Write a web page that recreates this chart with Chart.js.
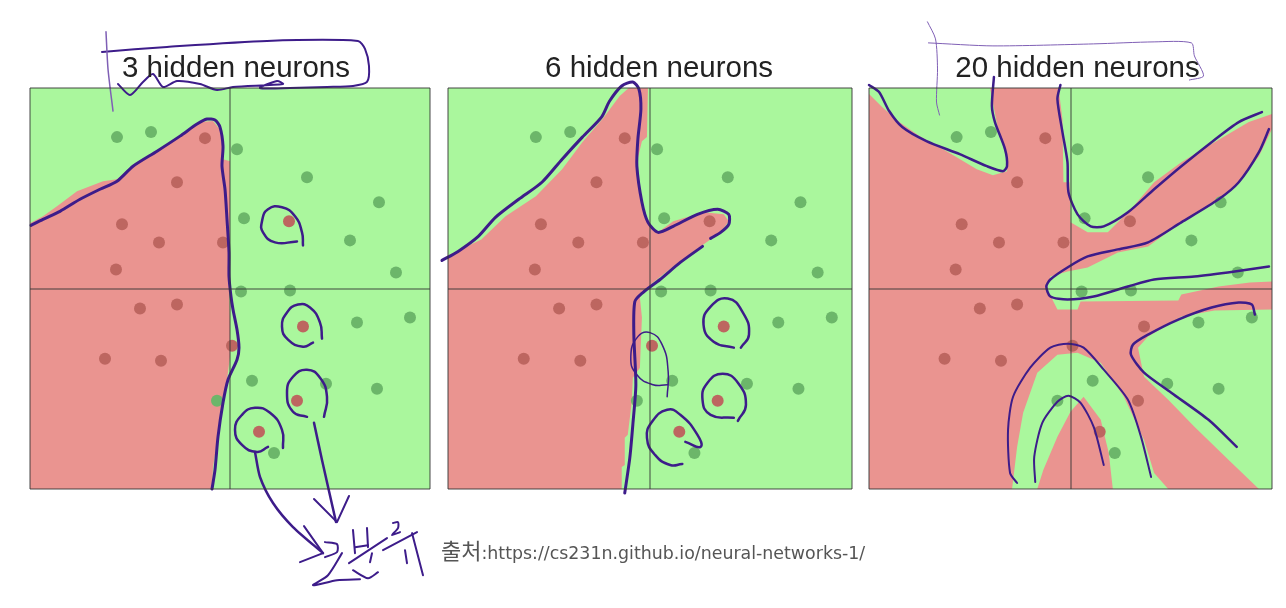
<!DOCTYPE html>
<html lang="ko">
<head>
<meta charset="utf-8">
<title>hidden neurons</title>
<script src="https://cdn.jsdelivr.net/npm/chart.js@4/dist/chart.umd.min.js"></script>
<style>
  html, body { margin: 0; padding: 0; background: #fff; }
  body { position: relative; width: 1286px; height: 608px; overflow: hidden; }
  canvas { position: absolute; top: 0; filter: blur(0.5px); }
  #source {
    position: absolute; left: 441px; top: 533px; white-space: nowrap;
    color: #555; font: 17.4px "DejaVu Sans", sans-serif; filter: blur(0.3px);
  }
  #source span { font: 22px "Noto Sans CJK KR", sans-serif; }
</style>
</head>
<body>
<canvas id="chart1" width="438" height="608" style="left:0"></canvas>
<canvas id="chart2" width="422" height="608" style="left:438px"></canvas>
<canvas id="chart3" width="426" height="608" style="left:860px"></canvas>
<div id="source"><span>출처</span>:https://cs231n.github.io/neural-networks-1/</div>

<script>
/* ---------------------------------- data ---------------------------------- */
const panelTitles = ["3 hidden neurons", "6 hidden neurons", "20 hidden neurons"];
const titleCenters = [6, 9, 7];

const redPoints = [[-25,150],[-53,106],[-108,64],[-71,46],[-7,46],[-114,19],[59,67],[-90,-20],[-53,-16],
  [-125,-70],[-69,-72],[2,-57],[73,-38],[67,-112],[29,-143]];
const greenPoints = [[-113,151],[-79,156],[7,139],[77,111],[149,86],[14,70],[120,48],[166,16],[11,-3],[60,-2],
  [127,-34],[180,-29],[22,-92],[96,-95],[147,-100],[-13,-112],[44,-164]];

// decision regions
const panel1Red = [[-200,65],[-187,72],[-173,82],[-153,97],[-127,107],[-113,109],[-97,122],[-73,137],[-50,152],
  [-30,166],[-17,167],[-8,156],[-7,129],[0,127],[0,69],[-1,0],[0,-34],[0,-68],[-3,-91],[-10,-134],[-17,-178],
  [-18,-200],[-200,-200]];
const panel2Red = [[-200,33],[-167,49],[-143,72],[-113,92],[-87,119],[-67,146],[-47,169],[-30,192],[-20,201],
  [-2,201],[-3,151],[-8,147],[-13,126],[-8,86],[0,62],[8,56],[23,67],[53,76],[73,74],[78,67],[70,56],[50,42],
  [23,22],[3,6],[-7,-3],[-10,-9],[-8,-29],[-10,-79],[-17,-89],[-18,-113],[-22,-146],[-25,-149],[-25,-176],
  [-28,-178],[-28,-200],[-200,-200]];
const panel3Green1 = [[-200,201],[-200,194],[-187,181],[-170,166],[-150,152],[-123,137],[-93,119],[-77,113],
  [-63,117],[-63,129],[-72,159],[-80,201]];
const panel3Green2 = [[-12,201],[-8,169],[-7,106],[-1,106],[0,66],[17,56],[37,56],[60,79],[83,106],[110,126],
  [143,146],[177,166],[200,174],[200,201]];
const panel3Green3 = [[200,159],[187,132],[167,106],[143,86],[110,66],[77,42],[47,36],[17,21],[-3,17],[-20,12],
  [-23,2],[-23,-1],[-13,-21],[7,-21],[10,-13],[107,-12],[110,-6],[147,2],[178,6],[200,7]];
const panel3Green4 = [[67,-59],[77,-48],[110,-28],[143,-22],[200,-21],[200,-200],[187,-200],[157,-171],[123,-138],
  [97,-111],[73,-88]];
const panel3Green5 = [[-58,-200],[-53,-158],[-47,-124],[-33,-84],[-13,-66],[7,-64],[30,-74],[53,-108],[73,-151],
  [83,-184],[97,-200],[42,-200],[38,-164],[30,-131],[13,-108],[0,-123],[-13,-148],[-27,-181],[-33,-200]];
const fullSquare = [[-200,-200],[200,-200],[200,200],[-200,200]];

// pen strokes, panel 1
const ink1Boundary = [[-199,63],[-187,69],[-170,77],[-150,89],[-130,99],[-113,107],[-97,122],[-73,137],[-50,152],
  [-33,164],[-23,169],[-15,168],[-10,161],[-7,142],[-8,122],[-5,99],[-3,69],[-1,36],[-1,12],[1,-8],[3,-21],[7,-41],
  [9,-59],[7,-71],[-2,-91],[-7,-114],[-12,-148],[-15,-181],[-18,-200]];
const ink1BoxSide = [[-124,256],[-122,219],[-117,177]];
const ink1Box = [[-128,236],[-63,241],[37,247],[128,247],[135,239],[139,222],[137,206],[123,202],[97,201],[60,200],
  [30,200],[47,207],[53,204],[3,201],[-13,198],[-30,204],[-53,207],[-67,201],[-77,214],[-87,206],[-100,193],[-112,204]];
const ink1Circles = [
  [[73,43],[72,56],[65,72],[52,81],[38,79],[32,67],[33,56],[45,46],[67,47]],
  [[92,-50],[90,-34],[80,-19],[68,-16],[57,-24],[52,-38],[58,-51],[73,-58],[83,-54]],
  [[94,-128],[97,-108],[90,-89],[77,-81],[63,-88],[57,-104],[63,-123],[77,-128]],
  [[53,-159],[52,-141],[40,-124],[25,-119],[12,-126],[5,-141],[12,-156],[27,-163],[38,-158]],
];
const ink1Arrows = [
  [[25,-163],[30,-188],[43,-214],[63,-238],[93,-264]],
  [[84,-134],[92,-171],[106,-233]],
];
const ink1Straight = [
  [[74,-237],[93,-264],[70,-273]],
  [[84,-210],[107,-233],[119,-207]],
  [[123,-241],[125,-264]],
  [[137,-239],[138,-258]],
  [[125,-258],[138,-256]],
  [[119,-274],[157,-249]],
  [[142,-264],[140,-273]],
  [[153,-261],[187,-243]],
  [[175,-261],[177,-274]],
  [[182,-244],[193,-286]],
];
const ink1Word = [
  [[95,-253],[107,-255],[107,-263],[95,-268]],
  [[112,-264],[98,-286],[83,-296],[107,-291],[130,-290]],
  [[123,-281],[138,-289],[148,-283]],
  [[163,-234],[168,-233],[168,-239],[162,-246],[170,-243]],
];

// pen strokes, panel 2
const ink2Upper = [[-206,28],[-190,37],[-170,52],[-153,71],[-130,89],[-107,106],[-87,129],[-67,151],[-48,171],
  [-40,187],[-28,202],[-17,206],[-11,199],[-9,179],[-12,149],[-13,122],[-8,86],[-2,66],[8,56],[23,62],[47,74],
  [67,79],[78,74],[78,64],[70,56],[60,50]];
const ink2Lower = [[52,42],[30,26],[10,9],[-7,-4],[-15,-13],[-16,-46],[-14,-96],[-17,-136],[-20,-169],[-25,-204]];
const ink2ThinCircle = [[17,-108],[18,-83],[12,-56],[0,-44],[-12,-48],[-19,-68],[-13,-86],[3,-96],[17,-96]];
const ink2Circles = [
  [[90,-59],[98,-46],[92,-24],[77,-10],[60,-18],[53,-36],[63,-53],[83,-59]],
  [[87,-132],[95,-116],[87,-94],[72,-85],[57,-94],[52,-111],[60,-126],[83,-129]],
  [[35,-153],[50,-158],[47,-146],[30,-126],[17,-121],[2,-133],[-3,-149],[5,-166],[20,-176],[32,-175]],
];

// pen strokes, panel 3
const ink3BoxSide = [[-142,266],[-134,249],[-132,219],[-133,186],[-130,173]];
const ink3Box = [[-141,245],[-77,242],[23,244],[83,246],[120,245],[123,232],[132,212],[118,208]];
const ink3Left = [[-200,203],[-190,196],[-180,177],[-167,161],[-143,147],[-110,134],[-83,122],[-67,117],[-63,122],
  [-65,139],[-75,166],[-78,182],[-76,211]];
const ink3Right = [[-10,203],[-13,189],[-8,156],[-3,126],[-2,96],[7,74],[20,62],[33,62],[57,76],[83,99],[110,122],
  [140,146],[167,166],[190,176]];
const ink3Band = [[197,159],[187,136],[167,106],[147,89],[110,66],[77,46],[47,39],[17,32],[-3,21],[-20,9],[-24,2],
  [-20,-8],[-3,-11],[23,-8],[57,2],[83,9],[123,12],[163,17],[197,22]];
const ink3Corner = [[183,-26],[180,-16],[167,-14],[140,-19],[107,-31],[77,-46],[62,-56],[60,-66],[73,-84],[100,-104],
  [137,-131],[165,-158]];
const ink3OuterArc = [[-53,-194],[-60,-184],[-62,-141],[-57,-108],[-40,-79],[-20,-59],[-3,-55],[13,-59],[33,-81],
  [57,-111],[70,-148],[80,-188]];
const ink3InnerArc = [[-35,-193],[-36,-168],[-28,-134],[-13,-113],[-2,-107],[10,-114],[23,-138],[33,-176]];

/* --------------------------------- colours --------------------------------- */
const regionGreen = "#aaf79d";
const regionRed = "#ea9490";
const dotRed = "#bd6660";
const dotGreen = "#6cb66a";
const penDark = "#3d1c8a";
const penThin = "#7f5fb5";

/* -------------------------------- datasets --------------------------------- */
const toXY = (pts) => pts.map(([x, y]) => ({ x, y }));

const region = (pts, color) => ({
  data: toXY(pts),
  showLine: true,
  fill: "shape",
  backgroundColor: color,
  borderWidth: 0,
  pointRadius: 0,
  tension: 0,
});

const dots = (pts, color) => ({
  data: toXY(pts),
  showLine: false,
  backgroundColor: color,
  borderWidth: 0,
  pointRadius: 6,
});

const pen = (pts, width, color, tension) => ({
  data: toXY(pts),
  showLine: true,
  fill: false,
  borderColor: color || penDark,
  borderWidth: width,
  borderCapStyle: "round",
  borderJoinStyle: "round",
  pointRadius: 0,
  tension: tension === undefined ? 0.25 : tension,
  clip: false,
});

const circle = (pts) => pen(pts, 2.5, penDark, 0.5);

const panels = [
  [
    pen(ink1Boundary, 3),
    pen(ink1BoxSide, 1.5, penThin),
    pen(ink1Box, 2),
    ...ink1Circles.map(circle),
    ...ink1Arrows.map((c) => pen(c, 2.5)),
    ...ink1Straight.map((c) => pen(c, 2, penDark, 0)),
    ...ink1Word.map((c) => pen(c, 2)),
    dots(redPoints, dotRed),
    dots(greenPoints, dotGreen),
    region(panel1Red, regionRed),
    region(fullSquare, regionGreen),
  ],
  [
    pen(ink2Upper, 3),
    pen(ink2Lower, 3),
    pen(ink2ThinCircle, 1.5, penDark, 0.5),
    ...ink2Circles.map(circle),
    dots(redPoints, dotRed),
    dots(greenPoints, dotGreen),
    region(panel2Red, regionRed),
    region(fullSquare, regionGreen),
  ],
  [
    pen(ink3BoxSide, 1, penThin),
    pen(ink3Box, 1, penThin),
    pen(ink3Left, 2.5),
    pen(ink3Right, 2.5),
    pen(ink3Band, 2.5),
    pen(ink3Corner, 2.5),
    pen(ink3OuterArc, 2),
    pen(ink3InnerArc, 2),
    dots(redPoints, dotRed),
    dots(greenPoints, dotGreen),
    region(panel3Green1, regionGreen),
    region(panel3Green2, regionGreen),
    region(panel3Green3, regionGreen),
    region(panel3Green4, regionGreen),
    region(panel3Green5, regionGreen),
    region(fullSquare, regionRed),
  ],
];

/* --------------------------------- charts ---------------------------------- */
// title sits a bit right of the panel centre, the built-in title block can't do that
const panelTitlePlugin = {
  id: "panelTitle",
  afterDraw(chart, args, opts) {
    const { ctx, scales } = chart;
    ctx.save();
    ctx.font = '29.5px "Liberation Sans", Arial, sans-serif';
    ctx.fillStyle = "#222";
    ctx.textAlign = "center";
    ctx.textBaseline = "alphabetic";
    ctx.fillText(opts.text, scales.x.getPixelForValue(opts.center), 77);
    ctx.restore();
  },
};

const axis = () => ({
  type: "linear",
  min: -200,
  max: 200,
  ticks: { display: false, stepSize: 200 },
  border: { display: false },
  grid: { color: "rgba(50,50,50,0.45)", lineWidth: 2, drawTicks: false, z: 1 },
});

const paddings = [
  { left: 30, right: 8, top: 88, bottom: 119 },
  { left: 10, right: 8, top: 88, bottom: 119 },
  { left: 9, right: 14, top: 88, bottom: 119 },
];

panels.forEach((datasets, i) => {
  new Chart(document.getElementById("chart" + (i + 1)), {
    type: "scatter",
    data: { datasets },
    plugins: [panelTitlePlugin],
    options: {
      responsive: false,
      animation: false,
      events: [],
      layout: { padding: paddings[i] },
      elements: { line: { capBezierPoints: false } },
      scales: { x: axis(), y: axis() },
      plugins: {
        legend: { display: false },
        tooltip: { enabled: false },
        panelTitle: { text: panelTitles[i], center: titleCenters[i] },
      },
    },
  });
});
</script>
</body>
</html>
